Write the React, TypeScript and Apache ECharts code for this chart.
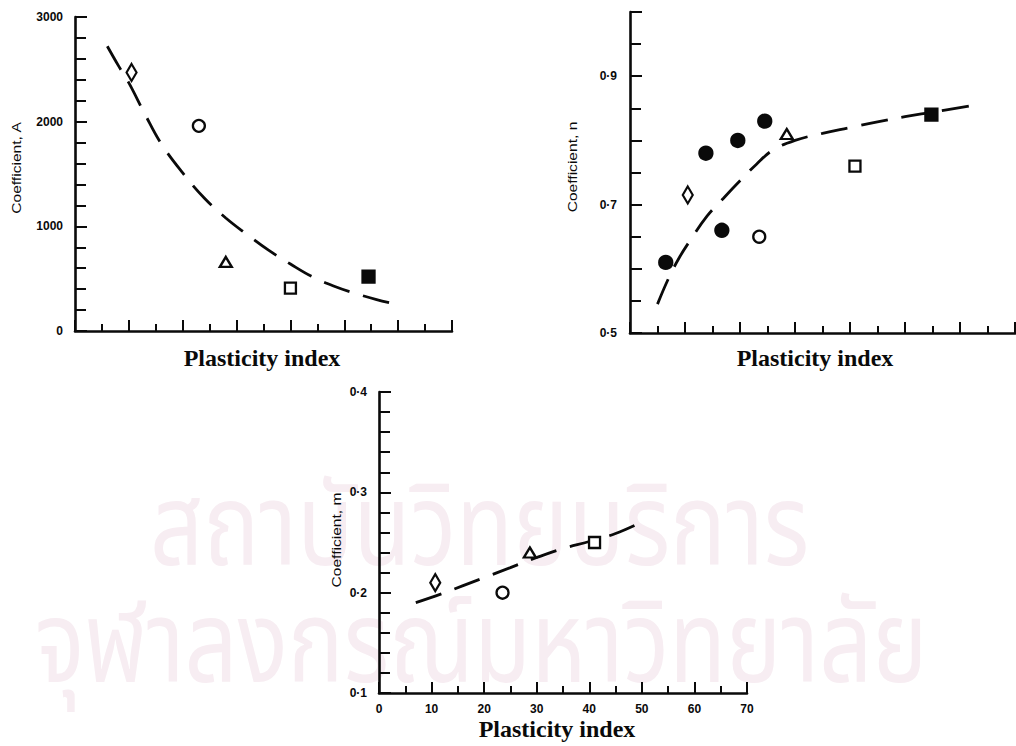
import React, { useEffect, useRef } from "react";
import * as echarts from "echarts";

// Coefficient A against plasticity index
const piA = [10.5, 23, 28, 40, 54.5];
const coefA = [2470, 1960, 660, 410, 520];
const soilA = ["diamond", "circle", "triangle", "square", "filledSquare"];
const fitPiA = [6, 8, 10, 13, 16, 20, 24, 28, 32, 36, 40, 44, 48, 52, 56, 60];
const fitA = [2720, 2540, 2370, 2070, 1790, 1510, 1270, 1080, 920, 770, 640, 520, 430, 360, 300, 250];

// Coefficient n against plasticity index
const piN = [6.5, 10.5, 13.8, 16.7, 19.6, 23.5, 24.5, 28.5, 40.9, 54.8];
const coefN = [0.61, 0.715, 0.78, 0.66, 0.8, 0.65, 0.83, 0.81, 0.76, 0.84];
const soilN = ["dot", "diamond", "dot", "dot", "dot", "circle", "dot", "triangle", "square", "filledSquare"];
const fitPiN = [5, 7, 9, 11, 14, 17, 20, 23, 26, 30, 35, 40, 45, 50, 55, 62];
const fitN = [0.545, 0.585, 0.618, 0.645, 0.682, 0.71, 0.737, 0.763, 0.785, 0.8, 0.811, 0.82, 0.829, 0.837, 0.844, 0.854];

// Coefficient m against plasticity index
const piM = [10.7, 23.5, 28.7, 41];
const coefM = [0.21, 0.2, 0.24, 0.25];
const soilM = ["diamond", "circle", "triangle", "square"];
const fitPiM = [7, 12, 16, 20, 25, 30, 35, 40, 45, 51];
const fitM = [0.19, 0.199, 0.207, 0.215, 0.225, 0.235, 0.244, 0.251, 0.259, 0.273];

const xTicks = [0, 10, 20, 30, 40, 50, 60, 70];

const SANS = "'Liberation Sans', Arial, Helvetica, sans-serif";
const SERIF = "'Liberation Serif', 'Times New Roman', serif";
const INK = "#0a0a0a";

const markerStyle: Record<string, any> = {
  diamond: { symbol: "diamond", symbolSize: [10, 17], fill: "#fff" },
  circle: { symbol: "circle", symbolSize: 12, fill: "#fff" },
  triangle: { symbol: "triangle", symbolSize: [12, 10], fill: "#fff" },
  square: { symbol: "rect", symbolSize: 11, fill: "#fff" },
  filledSquare: { symbol: "rect", symbolSize: 12, fill: INK },
  dot: { symbol: "circle", symbolSize: 13, fill: INK },
};

const dotDecimal = (v: number) => v.toFixed(1).replace(".", "\u00b7");

function pointSeries(idx: number, pis: number[], vals: number[], soils: string[]) {
  const kinds = Array.from(new Set(soils));
  return kinds.map((k) => {
    const m = markerStyle[k];
    return {
      type: "scatter",
      xAxisIndex: idx,
      yAxisIndex: idx,
      symbol: m.symbol,
      symbolSize: m.symbolSize,
      z: 5,
      itemStyle: { color: m.fill, borderColor: INK, borderWidth: 2.3, opacity: 1 },
      data: pis.map((p, i) => (soils[i] === k ? [p, vals[i]] : null)).filter(Boolean),
    };
  });
}

function fitSeries(idx: number, pis: number[], vals: number[]) {
  return {
    type: "line",
    xAxisIndex: idx,
    yAxisIndex: idx,
    smooth: 0.4,
    showSymbol: false,
    z: 4,
    lineStyle: { color: INK, width: 2.8, type: [27, 14] },
    data: pis.map((p, i) => [p, vals[i]]),
  };
}

function xAxis(gridIndex: number, labels: boolean) {
  return {
    type: "value",
    gridIndex,
    min: xTicks[0],
    max: xTicks[xTicks.length - 1],
    interval: xTicks[1] - xTicks[0],
    axisLine: { show: true, onZero: false, lineStyle: { color: INK, width: 2.6 } },
    axisTick: { show: true, inside: true, length: 11, lineStyle: { color: INK, width: 2 } },
    minorTick: { show: true, splitNumber: 2, length: 7, lineStyle: { color: INK, width: 2 } },
    splitLine: { show: false },
    minorSplitLine: { show: false },
    axisLabel: {
      show: labels,
      margin: 10,
      color: INK,
      fontFamily: SANS,
      fontSize: 12,
      fontWeight: "bold",
    },
  };
}

function yAxis(gridIndex: number, min: number, max: number, interval: number, minor: number, fmt: (v: number) => string, margin: number) {
  return {
    type: "value",
    gridIndex,
    min,
    max,
    interval,
    axisLine: { show: true, onZero: false, lineStyle: { color: INK, width: 2.6 } },
    axisTick: { show: true, inside: true, length: 12, lineStyle: { color: INK, width: 2 } },
    minorTick: { show: true, splitNumber: minor, length: 11, lineStyle: { color: INK, width: 2 } },
    splitLine: { show: false },
    minorSplitLine: { show: false },
    axisLabel: {
      margin,
      color: INK,
      fontFamily: SANS,
      fontSize: 12,
      fontWeight: "bold",
      formatter: fmt,
    },
  };
}

const yTitle = (x: number, y: number, text: string) => ({
  type: "text",
  x,
  y,
  rotation: Math.PI / 2,
  scaleX: 1.3,
  style: {
    text,
    fill: INK,
    font: `12px ${SANS}`,
    align: "center",
    verticalAlign: "middle",
  },
});

const xTitle = (x: number, y: number) => ({
  type: "text",
  x,
  y,
  style: {
    text: "Plasticity index",
    fill: INK,
    font: `bold 24px ${SERIF}`,
    align: "center",
    verticalAlign: "middle",
  },
});

// pale background lettering behind the plots
const watermark = (x: number, y: number, text: string) => ({
  type: "text",
  x,
  y,
  z: -10,
  silent: true,
  scaleX: 1.035,
  scaleY: 1.28,
  style: {
    text,
    fill: "#f7edf2",
    font: `90px 'Noto Sans Thai', 'Noto Sans', 'DejaVu Sans', sans-serif`,
    align: "left",
    verticalAlign: "top",
  },
});

export default function App() {
  const ref = useRef<HTMLDivElement>(null);
  useEffect(() => {
    if (!ref.current) return;
    const chart = echarts.init(ref.current, undefined, { renderer: "svg" });
    chart.setOption({
      animation: false,
      backgroundColor: "#ffffff",
      grid: [
        { left: 75, top: 17, width: 377, height: 314 },
        { left: 630, top: 12, width: 385, height: 321 },
        { left: 379, top: 392, width: 368, height: 301 },
      ],
      xAxis: [xAxis(0, false), xAxis(1, false), xAxis(2, true)],
      yAxis: [
        yAxis(0, 0, 3000, 1000, 5, (v) => String(v), 12),
        yAxis(1, 0.5, 1.0, 0.1, 2, (v) => ([5, 7, 9].includes(Math.round(v * 10)) ? dotDecimal(v) : ""), 13),
        yAxis(2, 0.1, 0.4, 0.1, 5, (v) => dotDecimal(v), 12),
      ],
      series: [
        fitSeries(0, fitPiA, fitA),
        ...pointSeries(0, piA, coefA, soilA),
        fitSeries(1, fitPiN, fitN),
        ...pointSeries(1, piN, coefN, soilN),
        fitSeries(2, fitPiM, fitM),
        ...pointSeries(2, piM, coefM, soilM),
      ],
      graphic: [
        watermark(150, 472, "สถาบันวิทยบริการ"),
        watermark(35, 589, "จุฬาลงกรณ์มหาวิทยาลัย"),
        yTitle(17, 168, "Coefficient, A"),
        yTitle(573, 167, "Coefficient, n"),
        yTitle(337, 540, "Coefficient, m"),
        xTitle(262, 358),
        xTitle(815, 358),
        xTitle(557, 729),
      ],
    });
    return () => chart.dispose();
  }, []);
  return (
    <div
      ref={ref}
      style={{ position: "fixed", left: 0, top: 0, width: 1016, height: 746 }}
    />
  );
}
